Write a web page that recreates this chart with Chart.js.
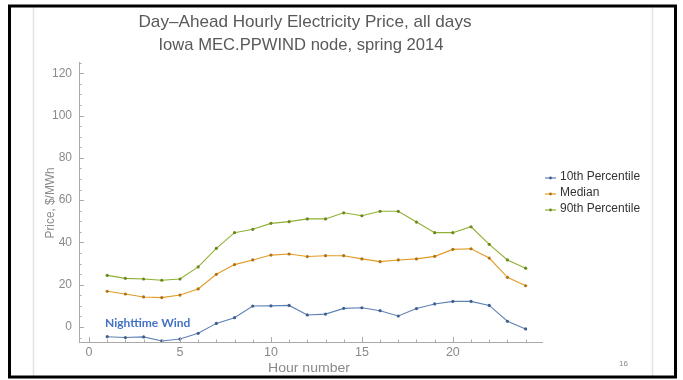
<!DOCTYPE html>
<html><head><meta charset="utf-8">
<script src="https://cdn.jsdelivr.net/npm/chart.js@4/dist/chart.umd.min.js"></script>
<style>html,body{margin:0;padding:0;background:#fff}#wrap{width:683px;height:380px;position:relative}</style>
</head><body><div id="wrap"><canvas id="c" width="683" height="380"></canvas></div>
<script>
const hours = [1,2,3,4,5,6,7,8,9,10,11,12,13,14,15,16,17,18,19,20,21,22,23,24];
const p10 = [-4.6,-5.0,-4.7,-6.6,-5.7,-3.0,1.7,4.4,9.9,10.0,10.2,5.7,6.1,8.8,9.1,7.7,5.2,8.7,10.9,12.1,12.1,10.2,2.7,-0.9];
const median = [16.9,15.6,14.2,13.9,15.1,18.0,24.9,29.5,31.7,34.0,34.5,33.3,33.7,33.7,32.2,30.9,31.7,32.2,33.4,36.7,37.0,32.6,23.5,19.5];
const p90 = [24.4,23.0,22.7,22.1,22.7,28.4,37.2,44.6,46.2,49.0,49.8,51.1,51.1,54.0,52.6,54.7,54.7,49.6,44.6,44.6,47.4,39.1,31.7,27.8];
const seriesNames = ['10th Percentile','Median','90th Percentile'];
const xTicks = [0,5,10,15,20];
const yTicks = [0,20,40,60,80,100,120];
const titleLines = ['Day\u2013Ahead Hourly Electricity Price, all days','Iowa MEC.PPWIND node, spring 2014'];

const colors = ['#5E81B5','#E19C24','#8FB032'];
const pointColors = ['#3f5f8f','#b07410','#6a8a1c'];
const FONT = "'Liberation Sans', Arial, sans-serif";

function mk(name, vals, i){
  return {label:name, data:hours.map((h,k)=>({x:h,y:vals[k]})), borderColor:colors[i], backgroundColor:pointColors[i],
    pointBackgroundColor:pointColors[i], pointBorderColor:pointColors[i], borderWidth:1.1, pointRadius:1.6, pointBorderWidth:0, tension:0};
}

function fitText(c, txt, cx, cy, w){
  const m = c.measureText(txt).width;
  c.save(); c.translate(cx, cy); c.scale(w/m, 1); c.textAlign='center'; c.fillText(txt, 0, 0); c.restore();
}

const deco = {
  id:'deco',
  beforeDraw(chart){
    const c = chart.ctx;
    c.save(); c.fillStyle='#fff'; c.fillRect(0,0,chart.width,chart.height);
    c.strokeStyle='#e2e2e2'; c.lineWidth=1.5;
    c.beginPath(); c.moveTo(33.5,7); c.lineTo(33.5,376); c.moveTo(652.5,7); c.lineTo(652.5,376); c.stroke();
    c.restore();
  },
  afterDraw(chart){
    const c = chart.ctx, xs = chart.scales.x, ys = chart.scales.y, a = chart.chartArea;
    c.save();
    c.strokeStyle='#aaa'; c.lineWidth=1;
    c.beginPath();
    for(let v=0; v<=24; v++){
      const px = Math.round(xs.getPixelForValue(v))+0.5; const L = (v%5===0)?5:2.5;
      c.moveTo(px,a.bottom); c.lineTo(px,a.bottom-L);
    }
    for(let v=-5; v<=125; v+=5){
      const py = Math.round(ys.getPixelForValue(v))+0.5; const L = (v%20===0)?5:2.5;
      if(py<a.top||py>a.bottom) continue;
      c.moveTo(a.left,py); c.lineTo(a.left+L,py);
    }
    c.stroke();
    // titles
    c.fillStyle='#595959'; c.textBaseline='middle';
    c.font = "17px "+FONT;
    fitText(c, titleLines[0], 305, 22, 333);
    fitText(c, titleLines[1], 301, 45, 285);
    // axis titles
    c.fillStyle='#8a8a8a'; c.font = "13px "+FONT; c.textAlign='center';
    fitText(c, 'Hour number', 309, 368, 82);
    c.save(); c.translate(51,203); c.rotate(-Math.PI/2); c.font="12px "+FONT; fitText(c,'Price, $/MWh',0,0,71); c.restore();
    // legend
    c.font = "12px "+FONT; c.textAlign='left';
    seriesNames.forEach((n,i)=>{
      const y = 177 + i*16;
      c.strokeStyle=colors[i]; c.lineWidth=1.2; c.beginPath(); c.moveTo(545,y+1); c.lineTo(556,y+1); c.stroke();
      c.fillStyle=pointColors[i]; c.beginPath(); c.arc(550.5,y+1,1.4,0,Math.PI*2); c.fill();
      c.fillStyle='#333'; c.fillText(n, 560, y);
    });
    // annotation
    c.fillStyle='#4472C4'; c.font = "bold 12px Lato, 'Open Sans', sans-serif";
    c.fillText('Nighttime Wind', 105, 323);
    // page number
    c.fillStyle='#8a8a8a'; c.font = "8px "+FONT; c.fillText('16', 619, 364);
    // frame
    c.strokeStyle='#000'; c.lineWidth=3; c.strokeRect(9.5,6,666,371);
    c.restore();
  }
};

new Chart(document.getElementById('c'), {
  type:'line',
  data:{datasets:[mk(seriesNames[0],p10,0), mk(seriesNames[1],median,1), mk(seriesNames[2],p90,2)]},
  options:{
    responsive:false, animation:false, devicePixelRatio:1,
    layout:{padding:{top:62,right:141,left:0,bottom:0}},
    plugins:{legend:{display:false}, title:{display:false}, tooltip:{enabled:false}},
    scales:{
      x:{type:'linear', min:-0.55, max:24.9,
        afterBuildTicks(s){ s.ticks = xTicks.map(v=>({value:v})); },
        afterFit(s){ s.height = 38; },
        grid:{display:false, drawTicks:false, tickLength:0}, border:{display:true,color:'#aaa',width:1},
        ticks:{color:'#8a8a8a', font:{family:FONT,size:12.5}, padding:3, maxRotation:0, autoSkip:false}
      },
      y:{type:'linear', min:-7.1, max:125.3,
        afterBuildTicks(s){ s.ticks = yTicks.map(v=>({value:v})); },
        afterFit(s){ s.width = 79; },
        grid:{display:false, drawTicks:false, tickLength:0}, border:{display:true,color:'#aaa',width:1},
        ticks:{color:'#8a8a8a', font:{family:FONT,size:12}, padding:7, autoSkip:false}
      }
    }
  },
  plugins:[deco]
});
</script></body></html>
